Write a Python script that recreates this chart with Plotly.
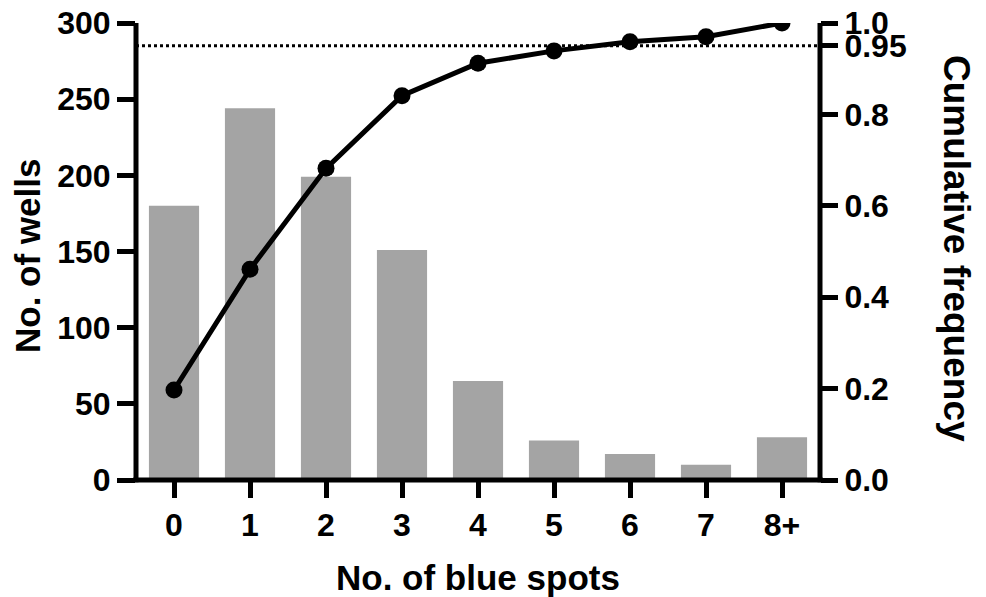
import plotly.graph_objects as go

categories = ["0", "1", "2", "3", "4", "5", "6", "7", "8+"]
wells = [180, 244, 199, 151, 65, 26, 17, 10, 28]
cumfreq = [0.197, 0.461, 0.682, 0.841, 0.912, 0.939, 0.959, 0.970, 1.0]
left_ticks = [0, 50, 100, 150, 200, 250, 300]
right_ticks = [0.0, 0.2, 0.4, 0.6, 0.8, 0.95, 1.0]
right_ticktext = ["0.0", "0.2", "0.4", "0.6", "0.8", "0.95", "1.0"]
threshold = 0.95

W, H = 986, 597
L, R, T, B = 136, 166, 23, 117
pw = W - L - R
ph = H - T - B

font = "Liberation Sans, Arial, sans-serif"
tickfont = dict(family=font, size=32, color="black", weight="bold")
titlefont = dict(family=font, size=35, color="black", weight="bold")

fig = go.Figure()
fig.add_trace(go.Bar(x=categories, y=wells, marker=dict(color="#a4a4a4", line=dict(width=0)),
                     width=0.66, yaxis="y", showlegend=False))
fig.add_trace(go.Scatter(x=categories, y=cumfreq, mode="lines+markers", yaxis="y2",
                         line=dict(color="black", width=5),
                         marker=dict(color="black", size=17), showlegend=False))

fig.add_shape(type="line", xref="paper", x0=0, x1=1, yref="y2", y0=threshold, y1=threshold,
              line=dict(color="black", width=3, dash="dot"), layer="below")

# axis lines (frame on left, bottom, right)
axis_line = dict(color="black", width=5)
fig.add_shape(type="line", xref="paper", yref="paper", x0=0, x1=0, y0=-0.005, y1=1, line=axis_line)
fig.add_shape(type="line", xref="paper", yref="paper", x0=1, x1=1, y0=-0.005, y1=1, line=axis_line)
fig.add_shape(type="line", xref="paper", yref="paper", x0=-0.004, x1=1.004, y0=0, y1=0, line=axis_line)

def px_to_paper_x(px):
    return (px - L) / pw

def py_to_paper_y(py):
    return (H - B - py) / ph

fig.add_annotation(text="No. of wells", x=px_to_paper_x(27), y=py_to_paper_y(256),
                   xref="paper", yref="paper", showarrow=False, textangle=-90,
                   font=titlefont, xanchor="center", yanchor="middle")
fig.add_annotation(text="Cumulative frequency", x=px_to_paper_x(957), y=py_to_paper_y(248),
                   xref="paper", yref="paper", showarrow=False, textangle=90,
                   font=dict(titlefont, size=37), xanchor="center", yanchor="middle")
fig.add_annotation(text="No. of blue spots", x=px_to_paper_x(478), y=py_to_paper_y(577),
                   xref="paper", yref="paper", showarrow=False,
                   font=titlefont, xanchor="center", yanchor="middle")

fig.update_layout(
    width=W, height=H,
    margin=dict(l=L, r=R, t=T, b=B, pad=0, autoexpand=False),
    paper_bgcolor="white", plot_bgcolor="white",
    xaxis=dict(type="category", range=[-0.5, 8.5], showline=False, automargin=False,
               ticks="outside", ticklen=17, tickwidth=5, tickcolor="black",
               tickfont=tickfont, showgrid=False, zeroline=False, fixedrange=True),
    yaxis=dict(range=[0, 300], tickvals=left_ticks, showline=False, automargin=False,
               ticks="outside", ticklen=18, tickwidth=5, tickcolor="black",
               tickfont=tickfont, showgrid=False, zeroline=False),
    yaxis2=dict(range=[0, 1], overlaying="y", side="right", tickvals=right_ticks,
                ticktext=right_ticktext, showline=False, automargin=False,
                ticks="outside", ticklen=17, tickwidth=5, tickcolor="black",
                tickfont=tickfont, showgrid=False, zeroline=False),
)

fig.write_html("out.html")
